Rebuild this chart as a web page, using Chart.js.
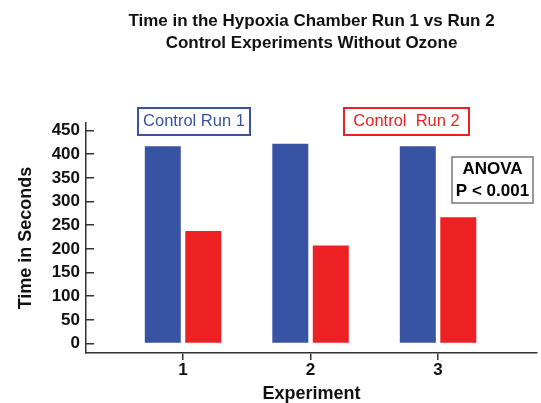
<!DOCTYPE html>
<html>
<head>
<meta charset="utf-8">
<script src="https://cdn.jsdelivr.net/npm/chart.js@4"></script>
<style>
    html, body { margin: 0; padding: 0; background: #fff; }
    #wrap { width: 541px; height: 403px; }
</style>
</head>
<body>
<div id="wrap"><canvas id="chart-hypoxia"></canvas></div>
<script>
const EXPERIMENTS = ["1", "2", "3"];
const RUN_1 = [417, 422, 417];
const RUN_2 = [238, 207, 267];
const Y_TICKS = [0, 50, 100, 150, 200, 250, 300, 350, 400, 450];
const TITLE_LINES = [
    "Time in the Hypoxia Chamber Run 1 vs Run 2",
    "Control Experiments Without Ozone",
];

const COLORS = {
    blue: "#3953a4",
    red: "#ed2024",
    axis: "#333333",
    text: "#111111",
};

const FONT = "'Liberation Sans', Arial, sans-serif";

// boxed labels + ANOVA note
const notesPlugin = {
    id: "notes",
    afterDraw(chart) {
        const { ctx } = chart;
        const boxes = [
            { lines: ["Control Run 1"], cx: 194, cy: 121.5, w: 112, h: 27, color: COLORS.blue, border: COLORS.blue, bold: false },
            { lines: ["Control  Run 2"], cx: 406.5, cy: 121.5, w: 125, h: 27, color: COLORS.red, border: COLORS.red, bold: false },
            { lines: ["ANOVA", "P < 0.001"], cx: 492.5, cy: 180, w: 81, h: 46, color: "#000", border: "#777", bold: true },
        ];
        ctx.save();
        boxes.forEach((b) => {
            ctx.strokeStyle = b.border;
            ctx.lineWidth = b.bold ? 1.5 : 2;
            ctx.strokeRect(b.cx - b.w / 2, b.cy - b.h / 2, b.w, b.h);
            ctx.fillStyle = b.color;
            ctx.font = `${b.bold ? "bold 17px" : "16.5px"} ${FONT}`;
            ctx.textAlign = "center";
            ctx.textBaseline = "middle";
            const lh = 22;
            b.lines.forEach((line, i) => {
                const y = b.cy + (i - (b.lines.length - 1) / 2) * lh;
                ctx.fillText(line, b.cx, y);
            });
        });
        ctx.restore();
    },
};

new Chart(document.getElementById("chart-hypoxia"), {
    type: "bar",
    data: {
        datasets: [
            {
                label: "Control Run 1",
                data: RUN_1.map((v, i) => ({ x: i, y: v })),
                backgroundColor: COLORS.blue,
            },
            {
                label: "Control Run 2",
                data: RUN_2.map((v, i) => ({ x: i, y: v })),
                backgroundColor: COLORS.red,
            },
        ],
    },
    options: {
        responsive: true,
        maintainAspectRatio: false,
        animation: false,
        categoryPercentage: 0.635,
        barPercentage: 0.889,
        layout: { padding: { left: 0, right: 4, top: 0, bottom: 0 } },
        plugins: {
            legend: { display: false },
            tooltip: { enabled: false },
            title: {
                display: true,
                fullSize: false,
                text: TITLE_LINES,
                color: COLORS.text,
                font: { family: FONT, size: 17, weight: "bold", lineHeight: 1.294 },
                padding: { top: 10, bottom: 69 },
            },
        },
        scales: {
            x: {
                type: "linear",
                offset: false,
                min: -0.761,
                max: 2.776,
                afterBuildTicks(axis) {
                    axis.ticks = EXPERIMENTS.map((_, i) => ({ value: i }));
                },
                afterFit(axis) {
                    axis.height = 50;
                },
                ticks: {
                    callback: (value) => EXPERIMENTS[value],
                    color: COLORS.text,
                    font: { family: FONT, size: 17, weight: "bold" },
                    padding: 0,
                    maxRotation: 0,
                },
                grid: {
                    offset: false,
                    drawOnChartArea: false,
                    tickLength: 7,
                    color: COLORS.axis,
                    lineWidth: 1.5,
                },
                border: { color: COLORS.axis, width: 1.5 },
                title: {
                    display: true,
                    text: "Experiment",
                    color: COLORS.text,
                    font: { family: FONT, size: 18, weight: "bold" },
                    padding: { top: 0, bottom: -2 },
                },
            },
            y: {
                min: -20,
                max: 466,
                afterBuildTicks(axis) {
                    axis.ticks = Y_TICKS.map((v) => ({ value: v }));
                },
                afterFit(axis) {
                    axis.width = 86;
                },
                ticks: {
                    color: COLORS.text,
                    font: { family: FONT, size: 17, weight: "bold" },
                    padding: 14,
                },
                grid: {
                    drawOnChartArea: false,
                    tickLength: -8,
                    color: COLORS.axis,
                    lineWidth: 1.5,
                },
                border: { color: COLORS.axis, width: 1.5 },
                title: {
                    display: true,
                    text: "Time in Seconds",
                    color: COLORS.text,
                    font: { family: FONT, size: 18, weight: "bold" },
                    padding: { top: 15, bottom: 0 },
                },
            },
        },
    },
    plugins: [notesPlugin],
});
</script>
</body>
</html>
